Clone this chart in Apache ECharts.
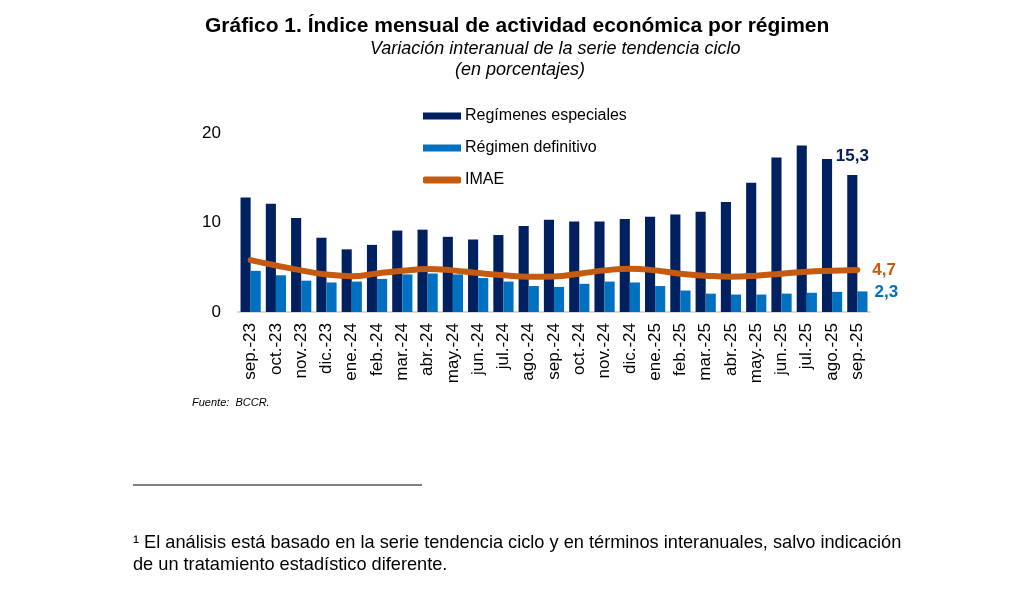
<!DOCTYPE html>
<html>
<head>
<meta charset="utf-8">
<script src="https://cdn.jsdelivr.net/npm/echarts@6/dist/echarts.min.js"></script>
<style>
  html, body { margin: 0; padding: 0; background: #fff; }
  #main { width: 1033px; height: 607px; }
</style>
</head>
<body>
<div id="main"></div>
<script>
// meses (eje x)
var meses = ['sep.-23','oct.-23','nov.-23','dic.-23','ene.-24','feb.-24','mar.-24','abr.-24','may.-24','jun.-24','jul.-24','ago.-24',
             'sep.-24','oct.-24','nov.-24','dic.-24','ene.-25','feb.-25','mar.-25','abr.-25','may.-25','jun.-25','jul.-25','ago.-25','sep.-25'];
// variación interanual, %
var especiales = [12.8,12.1,10.5,8.3,7.0,7.5,9.1,9.2,8.4,8.1,8.6,9.6,10.3,10.1,10.1,10.4,10.65,10.9,11.2,12.3,14.45,17.25,18.6,17.1,15.3];
var definitivo = [4.6,4.1,3.5,3.3,3.4,3.7,4.2,4.3,4.2,3.8,3.4,2.9,2.8,3.15,3.4,3.3,2.9,2.4,2.05,1.95,1.95,2.05,2.15,2.25,2.3];
var imae = [5.8,5.2,4.65,4.2,4.0,4.3,4.6,4.8,4.65,4.35,4.1,3.95,3.98,4.28,4.65,4.84,4.65,4.28,4.06,3.95,4.06,4.28,4.5,4.61,4.7];
var ticksY = [0, 10, 20];

var cEsp = '#002060', cDef = '#0070C0', cImae = '#C55A11';
var fuente = 'Liberation Sans, Arial, sans-serif';

function coma(v) { return String(v).replace('.', ','); }

// solo el ultimo dato lleva etiqueta
function lastLabel(arr, color, opts) {
  return arr.map(function (v, i) {
    if (i != arr.length - 1) return v;
    var lab = Object.assign({
      show: true, color: color, fontWeight: 'bold', fontSize: 17, fontFamily: fuente,
      formatter: function (p) { return coma(p.value); }
    }, opts);
    return { value: v, label: lab };
  });
}

var myChart = echarts.init(document.getElementById('main'));
var option = {
  backgroundColor: '#fff',
  animation: false,
  textStyle: { fontFamily: fuente },
  grid: { left: 238, right: 163, top: 133, bottom: 295, containLabel: false },
  legend: {
    orient: 'vertical', left: 418, top: 103, itemWidth: 38, itemHeight: 7, itemGap: 16,
    textStyle: { fontSize: 16, color: '#000', fontFamily: fuente, padding: [0, 0, 0, -1] },
    data: [
      { name: 'Regímenes especiales', icon: 'rect' },
      { name: 'Régimen definitivo', icon: 'rect' },
      { name: 'IMAE', icon: 'roundRect' }
    ]
  },
  xAxis: {
    type: 'category', data: meses,
    axisLine: { lineStyle: { color: '#d9d9d9', width: 2 } },
    axisTick: { show: false },
    axisLabel: { rotate: 90, fontSize: 17, color: '#000', margin: 11, interval: 0, fontFamily: fuente }
  },
  yAxis: {
    type: 'value', min: ticksY[0], max: ticksY[ticksY.length - 1], interval: 10,
    axisLine: { show: false }, axisTick: { show: false }, splitLine: { show: false },
    axisLabel: { fontSize: 17, color: '#000', margin: 17, fontFamily: fuente }
  },
  series: [
    {
      name: 'Regímenes especiales', type: 'bar', data: lastLabel(especiales, cEsp, { position: 'top', distance: 10 }),
      itemStyle: { color: cEsp }, barGap: '0%', barCategoryGap: '20%'
    },
    {
      name: 'Régimen definitivo', type: 'bar', data: lastLabel(definitivo, cDef, { position: 'right', distance: 7, offset: [0, -9] }),
      itemStyle: { color: cDef }
    },
    {
      name: 'IMAE', type: 'line', smooth: true, showSymbol: false,
      data: imae,
      lineStyle: { color: cImae, width: 6, cap: 'round' }, itemStyle: { color: cImae },
      endLabel: {
        show: true, color: cImae, fontWeight: 'bold', fontSize: 17, fontFamily: fuente, distance: 15,
        formatter: function (p) { return coma(p.value); }
      },
      z: 5
    }
  ],
  graphic: [
    { type: 'text', left: 205, top: 16, style: { text: 'Gráfico 1. Índice mensual de actividad económica por régimen', font: 'bold 21px ' + fuente, fill: '#000' } },
    { type: 'text', left: 370, top: 40, style: { text: 'Variación interanual de la serie tendencia ciclo', font: 'italic 18px ' + fuente, fill: '#000' } },
    { type: 'text', left: 455, top: 61, style: { text: '(en porcentajes)', font: 'italic 18px ' + fuente, fill: '#000' } },
    { type: 'text', left: 192, top: 397, style: { text: 'Fuente:  BCCR.', font: 'italic 11px ' + fuente, fill: '#000' } },
    { type: 'line', shape: { x1: 133, y1: 485, x2: 422, y2: 485 }, style: { stroke: '#000', lineWidth: 1 } },
    { type: 'text', left: 133, top: 532, style: { text: '¹ El análisis está basado en la serie tendencia ciclo y en términos interanuales, salvo indicación\nde un tratamiento estadístico diferente.', font: '18.2px ' + fuente, fill: '#000', lineHeight: 22 } }
  ]
};
myChart.setOption(option);
</script>
</body>
</html>
